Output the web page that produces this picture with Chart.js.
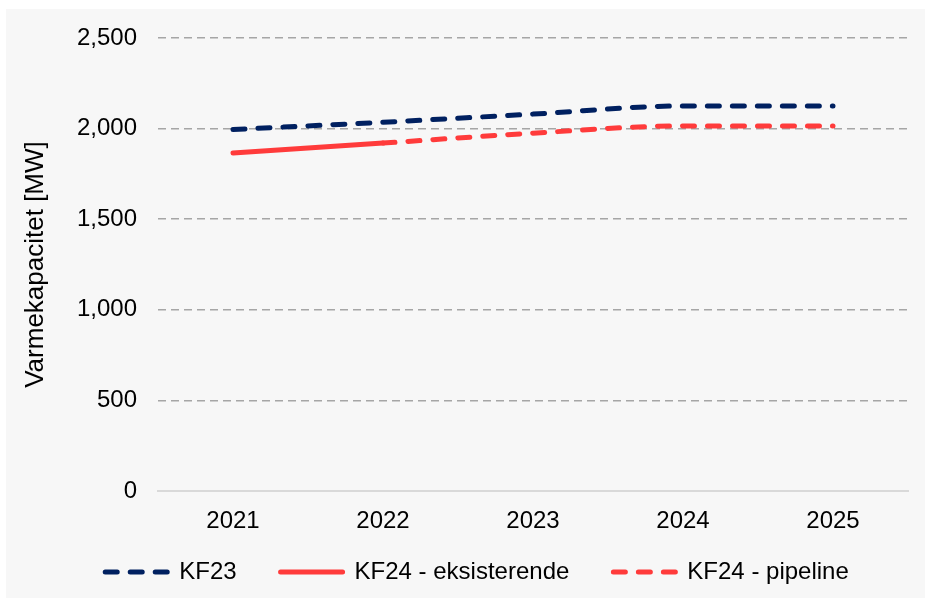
<!DOCTYPE html>
<html>
<head>
<meta charset="utf-8">
<script src="https://cdn.jsdelivr.net/npm/chart.js@4.4.0/dist/chart.umd.min.js"></script>
<style>
    body { margin: 0; background: #ffffff; }
    .frame { position: absolute; left: 6px; top: 9px; width: 919px; height: 589px; background: #f7f7f7; }
    canvas { display: block; }
</style>
</head>
<body>
<div class="frame">
    <canvas id="chart" width="919" height="589"></canvas>
</div>
<script>
const years = ['2021', '2022', '2023', '2024', '2025'];
const kf23 = [1995, 2035, 2080, 2125, 2125];
const kf24Existing = [1865, 1920, null, null, null];
const kf24Pipeline = [null, 1920, 1975, 2015, 2015];
const yTicks = [0, 500, 1000, 1500, 2000, 2500];

const navy = '#002060';
const red = '#ff3b3b';
const font = { family: '"Liberation Sans", Arial, sans-serif', size: 24 };

// move the legend row into place without touching the item spacing
const legendShift = {
    id: 'legendShift',
    afterLayout(chart) {
        chart.legend.top -= 25;
        chart.legend.left += 20;
        chart.legend.right += 20;
    }
};

const ctx = document.getElementById('chart').getContext('2d');
const chart = new Chart(ctx, {
    type: 'line',
    data: {
        labels: years,
        datasets: [
            { label: 'KF23', data: kf23, borderColor: navy, borderDash: [12, 13] },
            { label: 'KF24 - eksisterende', data: kf24Existing, borderColor: red, borderDash: [] },
            { label: 'KF24 - pipeline', data: kf24Pipeline, borderColor: red, borderDash: [12, 13] }
        ]
    },
    plugins: [legendShift],
    options: {
        responsive: false,
        animation: false,
        layout: { autoPadding: false, padding: { top: 29, right: 17, left: 0, bottom: 0 } },
        elements: {
            point: { radius: 0 },
            line: { borderWidth: 5, borderCapStyle: 'round', cubicInterpolationMode: 'monotone', fill: false }
        },
        scales: {
            x: {
                offset: true,
                grid: { display: false, drawTicks: false },
                border: { display: true, color: '#d9d9d9', width: 2 },
                ticks: { color: '#000', font: font, padding: 16 },
                afterFit(scale) { scale.height = 50; }
            },
            y: {
                min: 0,
                max: 2500,
                afterBuildTicks(scale) { scale.ticks = yTicks.map(v => ({ value: v })); },
                grid: {
                    drawTicks: false,
                    lineWidth: 1.5,
                    color: c => c.tick && c.tick.value === 0 ? 'rgba(0,0,0,0)' : '#a6a6a6'
                },
                border: { display: false, dash: [8, 5] },
                ticks: {
                    color: '#000',
                    font: font,
                    padding: 21,
                    callback: v => v.toLocaleString('en-US')
                },
                title: {
                    display: true,
                    text: 'Varmekapacitet [MW]',
                    color: '#000',
                    font: { family: font.family, size: 26 },
                    padding: { top: 14, bottom: 0 }
                },
                afterFit(scale) {
                    scale.width = 152;
                    scale.paddingTop = 0;
                    scale.paddingBottom = 0;
                }
            }
        },
        plugins: {
            tooltip: { enabled: false },
            legend: {
                position: 'bottom',
                maxHeight: 57,
                labels: {
                    color: '#000',
                    font: font,
                    padding: 44,
                    usePointStyle: true,
                    pointStyleWidth: 62,
                    generateLabels(chart) {
                        return chart.data.datasets.map((ds, i) => ({
                            text: ds.label,
                            datasetIndex: i,
                            strokeStyle: ds.borderColor,
                            fillStyle: ds.borderColor,
                            fontColor: '#000',
                            lineWidth: 5,
                            lineDash: ds.borderDash,
                            lineCap: 'round',
                            pointStyle: 'line',
                            hidden: false
                        }));
                    }
                }
            }
        }
    }
});
</script>
</body>
</html>
